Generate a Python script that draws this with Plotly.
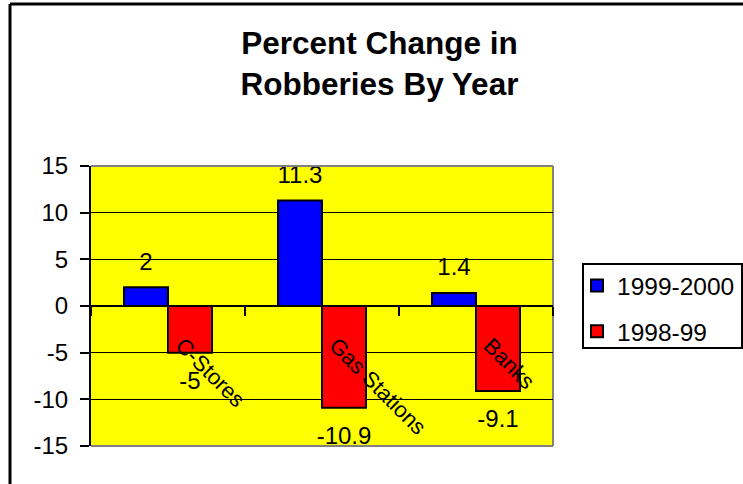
import plotly.graph_objects as go

categories = ["C-Stores", "Gas Stations", "Banks"]
series_names = ["1999-2000", "1998-99"]
values_1999_2000 = [2, 11.3, 1.4]
values_1998_99 = [-5, -10.9, -9.1]
y_ticks = [-15, -10, -5, 0, 5, 10, 15]

W, H = 743, 484
ML, MR, MT, MB = 91, 190, 166, 38
PW = W - ML - MR
PH = H - MT - MB

def px_x(p):
    return (p - ML) / PW

def px_y(p):
    return (H - MB - p) / PH

FONT = "Arial, Liberation Sans, sans-serif"
BAR_GAP = 0.4286

fig = go.Figure()
fig.add_trace(go.Bar(
    x=categories, y=values_1999_2000, name=series_names[0],
    marker=dict(color="#0000FF", line=dict(color="black", width=2)),
    offsetgroup="a", legendgroup="a",
))
fig.add_trace(go.Bar(
    x=categories, y=values_1998_99, name=series_names[1],
    marker=dict(color="#FF0000", line=dict(color="black", width=2)),
    offsetgroup="b", legendgroup="b",
))
fig.add_trace(go.Scatter(
    x=categories, y=values_1999_2000, mode="markers+text",
    text=[str(v) for v in values_1999_2000], textposition="top center",
    marker=dict(size=17, opacity=0), textfont=dict(size=24, color="black", family=FONT),
    offsetgroup="a", showlegend=False, hoverinfo="skip", cliponaxis=False,
))
fig.add_trace(go.Scatter(
    x=categories, y=values_1998_99, mode="markers+text",
    text=[str(v) for v in values_1998_99], textposition="bottom center",
    marker=dict(size=28, opacity=0), textfont=dict(size=24, color="black", family=FONT),
    offsetgroup="b", showlegend=False, hoverinfo="skip", cliponaxis=False,
))

annotations = []
for c in categories:
    annotations.append(dict(
        x=c, y=0, xref="x", yref="y", text=c, showarrow=False,
        textangle=45, xanchor="left", yanchor="top", xshift=0, yshift=-24,
        font=dict(size=22, color="black", family=FONT),
    ))

shapes = [
    dict(type="line", xref="x domain", yref="y domain", x0=0, x1=1, y0=1, y1=1,
         line=dict(color="#808080", width=2), layer="above"),
    dict(type="line", xref="x domain", yref="y domain", x0=1, x1=1, y0=0, y1=1,
         line=dict(color="#808080", width=2), layer="below"),
    dict(type="line", xref="x domain", yref="y domain", x0=0, x1=1, y0=0, y1=0,
         line=dict(color="#808080", width=2), layer="below"),
    # outer frame
    dict(type="line", xref="paper", yref="paper", x0=px_x(10), x1=px_x(10),
         y0=px_y(4), y1=px_y(H + 10), line=dict(color="black", width=3)),
    dict(type="line", xref="paper", yref="paper", x0=px_x(10), x1=px_x(W + 10),
         y0=px_y(4), y1=px_y(4), line=dict(color="black", width=3)),
    # legend box
    dict(type="rect", xref="paper", yref="paper", x0=px_x(583), x1=px_x(742),
         y0=px_y(348), y1=px_y(264), line=dict(color="black", width=2),
         fillcolor="white", layer="above"),
]

fig.update_layout(
    width=W, height=H,
    margin=dict(l=ML, r=MR, t=MT, b=MB, pad=0, autoexpand=False),
    paper_bgcolor="white", plot_bgcolor="#FFFF00",
    barmode="group", bargap=BAR_GAP, bargroupgap=0,
    scattermode="group", scattergap=BAR_GAP,
    font=dict(family=FONT, size=24, color="black"),
    title=dict(
        text="<b>Percent Change in<br>Robberies By Year</b>",
        x=379.5 / W, xanchor="center", xref="container",
        y=1 - 54 / H, yanchor="top", yref="container",
        font=dict(size=31.5, family=FONT, color="black"),
    ),
    xaxis=dict(
        type="category", anchor="free", position=0.5,
        showline=True, linecolor="black", linewidth=2,
        ticks="outside", tickson="boundaries", ticklen=9, tickwidth=2, tickcolor="black",
        showticklabels=False, showgrid=False, zeroline=False, fixedrange=True,
    ),
    yaxis=dict(
        range=[-15, 15], tickvals=y_ticks, ticktext=[str(t) for t in y_ticks],
        showline=True, linecolor="black", linewidth=2,
        ticks="outside", ticklen=9, tickwidth=2, tickcolor="black",
        showgrid=True, gridcolor="black", gridwidth=1, zeroline=False,
        tickfont=dict(size=24, family=FONT, color="black"), ticklabelstandoff=7,
        fixedrange=True,
    ),
    legend=dict(
        x=px_x(577), y=px_y(263), xanchor="left", yanchor="top",
        bgcolor="rgba(0,0,0,0)", borderwidth=0,
        font=dict(size=24.5, family=FONT, color="black"),
        traceorder="grouped", tracegroupgap=11,
    ),
    annotations=annotations,
    shapes=shapes,
    showlegend=True,
)

fig.write_html(
    "out.html",
    config={"displayModeBar": False},
    post_script="document.body.style.margin='0';document.body.style.overflow='hidden';",
)
